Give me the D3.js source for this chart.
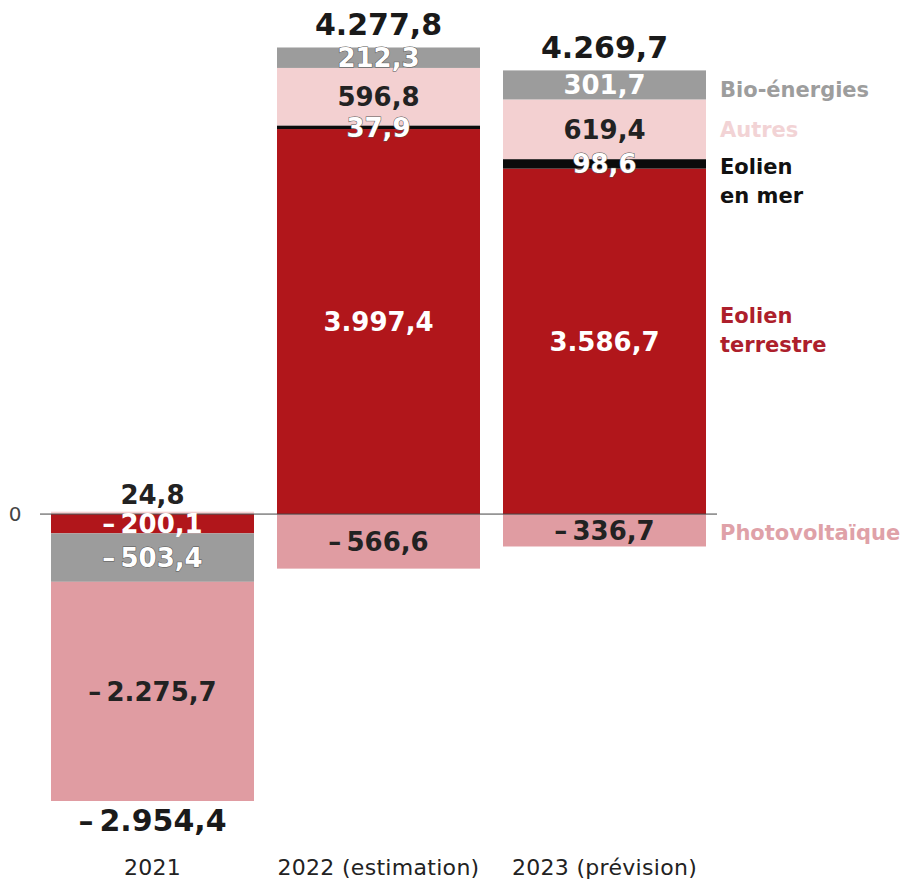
<!DOCTYPE html>
<html>
<head>
<meta charset="utf-8">
<script src="https://cdn.jsdelivr.net/npm/d3@7"></script>
<style>
  body { margin: 0; background: #fff; }
  text { font-family: "DejaVu Sans", sans-serif; }
</style>
</head>
<body>
<svg id="chart"></svg>
<script>
var width = 907, height = 881;

// values
var years = ["2021", "2022 (estimation)", "2023 (prévision)"];
var eolienTerrestre = [-200.1, 3997.4, 3586.7];
var eolienMer = [0, 37.9, 98.6];
var autres = [24.8, 596.8, 619.4];
var bioEnergies = [-503.4, 212.3, 301.7];
var photovoltaique = [-2275.7, -566.6, -336.7];
var totals = [-2954.4, 4277.8, 4269.7];

var keys = ["terrestre", "mer", "autres", "bio", "photo"];
var legendNames = {
  bio: ["Bio-énergies"], autres: ["Autres"], mer: ["Eolien", "en mer"],
  terrestre: ["Eolien", "terrestre"], photo: ["Photovoltaïque"]
};
var colors = { terrestre: "#b1161b", mer: "#0b0b0b", autres: "#f3d0d1", bio: "#9c9c9c", photo: "#e09ca2" };
var legendColors = { terrestre: "#ad1f2c", mer: "#111", autres: "#f2d3d5", bio: "#9d9d9d", photo: "#dfa1a8" };

var table = years.map(function(y, i) {
  return { year: y, terrestre: eolienTerrestre[i], mer: eolienMer[i], autres: autres[i],
           bio: bioEnergies[i], photo: photovoltaique[i], total: totals[i] };
});

var fr = d3.formatLocale({ decimal: ",", thousands: ".", grouping: [3], currency: ["", ""], minus: "\u2013\u2009" });
var fmt = fr.format(",.1f");

var svg = d3.select("#chart").attr("width", width).attr("height", height);

var x = d3.scaleBand().domain(years).range([51, 706]).paddingInner(23 / 226).paddingOuter(0);
var y = d3.scaleLinear().domain([-3000, 5000]).range([803, 32.5]);

var series = d3.stack().keys(keys).offset(d3.stackOffsetDiverging)(table);

// bars
var layer = svg.selectAll(".layer").data(series).enter()
  .append("g").attr("class", "layer").attr("fill", function(d) { return colors[d.key]; });

layer.selectAll("rect").data(function(d) { return d; }).enter()
  .append("rect")
    .attr("x", function(d) { return x(d.data.year); })
    .attr("width", x.bandwidth())
    .attr("y", function(d) { return y(Math.max(d[0], d[1])); })
    .attr("height", function(d) { return Math.abs(y(d[0]) - y(d[1])); });

// zero line
svg.append("line")
  .attr("x1", 40).attr("x2", 717)
  .attr("y1", y(0)).attr("y2", y(0))
  .attr("stroke", "#444").attr("stroke-width", 1);
svg.append("text")
  .attr("x", 15).attr("y", y(0)).attr("dy", "0.35em")
  .attr("text-anchor", "middle").attr("font-size", 20).attr("fill", "#444")
  .text("0");

// segment labels
var labelFill = { terrestre: "#fff", mer: "#fff", autres: "#222", bio: "#fff", photo: "#222" };
series.forEach(function(s) {
  s.forEach(function(d) {
    var v = d.data[s.key];
    if (!v) return;
    var cy = y((d[0] + d[1]) / 2);
    var fill = labelFill[s.key];
    // tiny positive slice of 2021 sits above the zero line
    if (s.key === "autres" && v < 100) { cy = y(0) - 19; fill = "#222"; }
    var t = svg.append("text")
      .attr("x", x(d.data.year) + x.bandwidth() / 2)
      .attr("y", cy).attr("dy", "0.36em")
      .attr("text-anchor", "middle")
      .attr("font-size", 26).attr("font-weight", "bold")
      .attr("fill", fill)
      .text(fmt(v));
    if (s.key === "mer" || (s.key === "bio" && v < 250)) {
      t.attr("stroke", "#555").attr("stroke-width", 1).attr("paint-order", "stroke");
    }
  });
});

// totals
table.forEach(function(d) {
  var top = y(d.total > 0 ? d3.sum(keys, function(k) { return Math.max(0, d[k]); }) : 0);
  var bottom = y(d3.sum(keys, function(k) { return Math.min(0, d[k]); }));
  svg.append("text")
    .attr("x", x(d.year) + x.bandwidth() / 2)
    .attr("y", d.total > 0 ? top - 12 : bottom + 30)
    .attr("text-anchor", "middle")
    .attr("font-size", 30).attr("font-weight", "bold").attr("fill", "#1a1a1a")
    .text(fmt(d.total));
});

// year labels
svg.selectAll(".year").data(years).enter()
  .append("text").attr("class", "year")
    .attr("x", function(d) { return x(d) + x.bandwidth() / 2; })
    .attr("y", 875)
    .attr("text-anchor", "middle")
    .attr("font-size", 22).attr("letter-spacing", 0.3).attr("fill", "#222")
    .text(function(d) { return d; });

// legend, next to the 2023 segments
var last = series.map(function(s) { return { key: s.key, d: s[2] }; });
var legendOffset = { bio: 5, autres: 0, mer: 3, terrestre: -26, photo: 2 };
last.forEach(function(l) {
  var lines = legendNames[l.key];
  var cy = y((l.d[0] + l.d[1]) / 2) + legendOffset[l.key];
  var t = svg.append("text")
    .attr("x", 720).attr("y", cy).attr("dy", "0.36em")
    .attr("font-size", 21).attr("font-weight", "bold")
    .attr("fill", legendColors[l.key]);
  lines.forEach(function(line, i) {
    t.append("tspan").attr("x", 720).attr("dy", i === 0 ? "0.36em" : 29).text(line);
  });
});
</script>
</body>
</html>
